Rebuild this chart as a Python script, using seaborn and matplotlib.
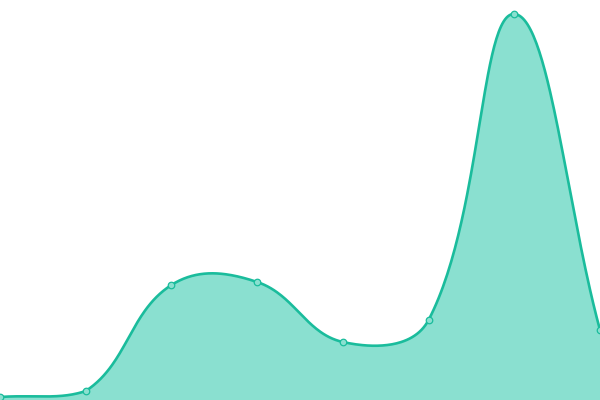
import numpy as np
import pandas as pd
import matplotlib
matplotlib.use("Agg")
import matplotlib.pyplot as plt
import seaborn as sns

# Data (y in chart units, 0 = bottom)
x_vals = [0, 1, 2, 3, 4, 5, 6, 7]
y_vals = [3, 9, 115, 118, 58, 80, 386, 70]

LINE = "#1abc9c"
FILL = "#8ae0d0"
TENSION = 0.4
XSCALE = 600 / 7.0  # pixel per x unit (for distance-weighted spline)
YMAX = 400


def spline_path(xs, ys, tension=TENSION, n=60):
    P = np.column_stack([np.asarray(xs, float) * XSCALE, np.asarray(ys, float)])
    m = len(P)
    cprev = np.zeros_like(P)
    cnext = np.zeros_like(P)
    for i in range(m):
        prev = P[max(i - 1, 0)]
        cur = P[i]
        nxt = P[min(i + 1, m - 1)]
        d01 = np.hypot(*(cur - prev))
        d12 = np.hypot(*(nxt - cur))
        tot = d01 + d12
        s01 = d01 / tot if tot else 0
        s12 = d12 / tot if tot else 0
        cprev[i] = cur - tension * s01 * (nxt - prev)
        cnext[i] = cur + tension * s12 * (nxt - prev)
    # keep control points inside the plotting area
    for c in (cprev, cnext):
        c[:, 0] = np.clip(c[:, 0], 0, 600)
        c[:, 1] = np.clip(c[:, 1], 0, YMAX)
    out = []
    for i in range(m - 1):
        t = np.linspace(0, 1, n, endpoint=(i == m - 2))[:, None]
        p0, p1, p2, p3 = P[i], cnext[i], cprev[i + 1], P[i + 1]
        out.append((1 - t) ** 3 * p0 + 3 * (1 - t) ** 2 * t * p1
                   + 3 * (1 - t) * t ** 2 * p2 + t ** 3 * p3)
    out = np.vstack(out)
    return out[:, 0] / XSCALE, out[:, 1]


sx, sy = spline_path(x_vals, y_vals)
smooth = pd.DataFrame({"x": sx, "y": sy})
pts = pd.DataFrame({"x": x_vals, "y": y_vals})

sns.set_style("white")
fig = plt.figure(figsize=(6, 4), dpi=100)
ax = fig.add_axes([0, 0, 1, 1])
ax.fill_between(smooth["x"], smooth["y"], 0, color=FILL, linewidth=0, zorder=1)
sns.lineplot(data=smooth, x="x", y="y", ax=ax, color=LINE, linewidth=1.9,
             sort=False, estimator=None, zorder=2)
sns.scatterplot(data=pts, x="x", y="y", ax=ax, s=22, color=FILL,
                edgecolor=LINE, linewidth=0.9, zorder=3)
ax.set_xlim(0, 7)
ax.set_ylim(0, YMAX)
ax.axis("off")
fig.savefig("out.png", dpi=100)
